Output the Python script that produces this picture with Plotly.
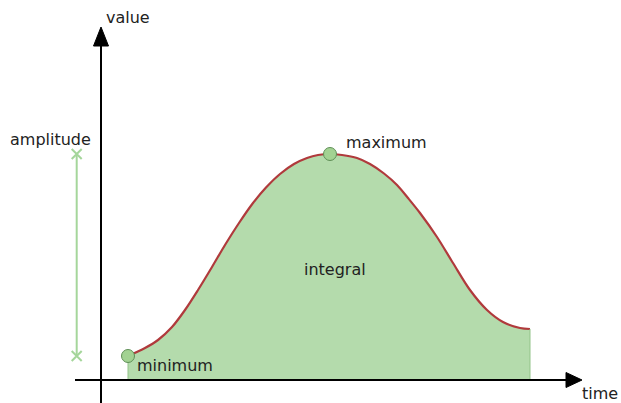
import plotly.graph_objects as go

# ---- data ----
time = [0.27, 0.44, 0.57, 0.71, 0.84, 0.97, 1.11, 1.24, 1.38, 1.52, 1.65, 1.79, 1.93, 2.06, 2.17,
        2.29, 2.41, 2.56, 2.69, 2.83, 2.96, 3.07, 3.19, 3.36, 3.52, 3.69, 3.86, 4.02, 4.19, 4.29]
value = [0.24, 0.32, 0.40, 0.53, 0.70, 0.90, 1.13, 1.35, 1.57, 1.77, 1.925, 2.06, 2.16, 2.22, 2.25,
         2.26, 2.25, 2.22, 2.16, 2.065, 1.95, 1.82, 1.67, 1.43, 1.17, 0.90, 0.70, 0.58, 0.52, 0.51]
labels = {"min": "minimum", "max": "maximum", "integral": "integral",
          "amp": "amplitude", "x": "time", "y": "value"}

# ---- styling / geometry constants ----
X_RANGE = [-1.01, 5.20]
Y_RANGE = [-0.23, 3.80]
AMP_T = -0.243
X_AXIS = (-0.26, 4.70, 4.81)   # start, line end, arrow tip
Y_AXIS = (-0.23, 3.39, 3.53)
HEAD_HALF = 0.075
FILL = "#b4dbac"
EDGE = "#93c389"
CURVE = "#b03a3c"
AMPC = "#a5d69b"
TXT = "#222222"
FONT = "DejaVu Sans"

imin = value.index(min(value))
imax = value.index(max(value))

fig = go.Figure()

# filled area + curve
fig.add_trace(go.Scatter(x=time, y=value, mode="lines", fill="tozeroy",
                         fillcolor=FILL, line=dict(color=CURVE, width=2.2, shape="spline", smoothing=0.9),
                         hoverinfo="skip"))
# vertical edges of the fill
for i in (0, len(time) - 1):
    fig.add_trace(go.Scatter(x=[time[i], time[i]], y=[0, value[i]], mode="lines",
                             line=dict(color=EDGE, width=1), hoverinfo="skip"))

# axes lines
fig.add_trace(go.Scatter(x=[X_AXIS[0], X_AXIS[1]], y=[0, 0], mode="lines",
                         line=dict(color="black", width=2), hoverinfo="skip"))
fig.add_trace(go.Scatter(x=[0, 0], y=[Y_AXIS[0], Y_AXIS[1]], mode="lines",
                         line=dict(color="black", width=2), hoverinfo="skip"))

# amplitude bar
fig.add_trace(go.Scatter(x=[AMP_T, AMP_T], y=[value[imin], value[imax]], mode="lines+markers",
                         line=dict(color=AMPC, width=2),
                         marker=dict(symbol="x-thin", size=10, line=dict(color=AMPC, width=2)),
                         hoverinfo="skip"))

# min / max markers
fig.add_trace(go.Scatter(x=[time[imin], time[imax]], y=[value[imin], value[imax]], mode="markers",
                         marker=dict(symbol="circle", size=13, color="#a2d292",
                                     line=dict(color="#5f8f56", width=1)),
                         hoverinfo="skip"))

# arrow heads (shapes)
shapes = [
    dict(type="path", xref="x", yref="y",
         path=f"M {X_AXIS[1]-0.05},{-HEAD_HALF} L {X_AXIS[2]},0 L {X_AXIS[1]-0.05},{HEAD_HALF} Z",
         fillcolor="black", line=dict(color="black", width=1)),
    dict(type="path", xref="x", yref="y",
         path=f"M {-HEAD_HALF},{Y_AXIS[1]-0.05} L 0,{Y_AXIS[2]} L {HEAD_HALF},{Y_AXIS[1]-0.05} Z",
         fillcolor="black", line=dict(color="black", width=1)),
]

fnt = dict(family=FONT, size=16, color=TXT)
annotations = [
    dict(x=time[imin], y=value[imin], text=labels["min"], showarrow=False,
         xanchor="left", yanchor="middle", xshift=7, yshift=-9, font=fnt),
    dict(x=time[imax], y=value[imax], text=labels["max"], showarrow=False,
         xanchor="left", yanchor="middle", xshift=14, yshift=12, font=fnt),
    dict(x=2.34, y=1.11, text=labels["integral"], showarrow=False,
         xanchor="center", yanchor="middle", font=fnt),
    dict(x=AMP_T, y=value[imax], text=labels["amp"], showarrow=False,
         xanchor="right", yanchor="middle", xshift=16, yshift=15, font=fnt),
    dict(x=0, y=Y_AXIS[2], text=labels["y"], showarrow=False,
         xanchor="left", yanchor="middle", xshift=3, yshift=10, font=fnt),
    dict(x=X_AXIS[2], y=0, text=labels["x"], showarrow=False,
         xanchor="left", yanchor="middle", xshift=-2, yshift=-13, font=fnt),
]

fig.update_layout(
    width=621, height=403, margin=dict(l=0, r=0, t=0, b=0),
    paper_bgcolor="white", plot_bgcolor="white", showlegend=False,
    xaxis=dict(range=X_RANGE, visible=False, fixedrange=True),
    yaxis=dict(range=Y_RANGE, visible=False, fixedrange=True),
    shapes=shapes, annotations=annotations,
)

fig.write_html("out.html", config={"displayModeBar": False},
               post_script="document.body.style.margin='0';document.body.style.overflow='hidden';")
